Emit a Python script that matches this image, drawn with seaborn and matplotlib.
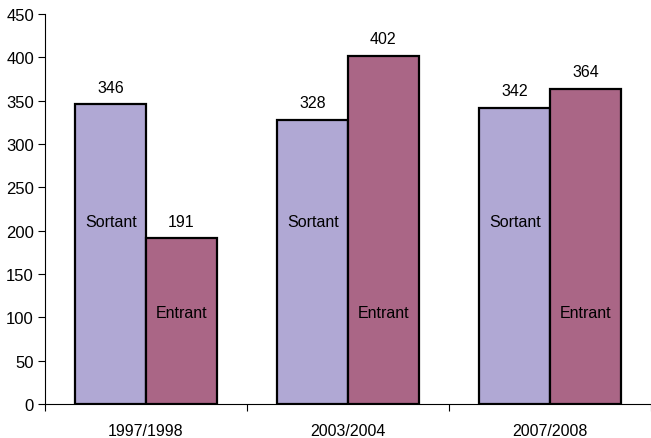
import matplotlib
matplotlib.use("Agg")
import matplotlib.pyplot as plt
import seaborn as sns
import pandas as pd

periods = ["1997/1998", "2003/2004", "2007/2008"]
series = ["Sortant", "Entrant"]
sortant = [346, 328, 342]
entrant = [191, 402, 364]
colors = {"Sortant": "#B0A8D4", "Entrant": "#AA6686"}

df = pd.DataFrame({
    "period": periods * 2,
    "series": ["Sortant"] * 3 + ["Entrant"] * 3,
    "value": sortant + entrant,
})

sns.set_theme(style="white")
plt.rcParams["font.family"] = ["Liberation Sans", "DejaVu Sans"]

fig = plt.figure(figsize=(6.51, 4.39), dpi=100)
ax = fig.add_axes([45 / 651, 34 / 439, 606 / 651, 390 / 439])

sns.barplot(data=df, x="period", y="value", hue="series", order=periods,
            hue_order=series, palette=colors, width=0.7, edgecolor="black",
            linewidth=1.6, saturation=1, legend=False, ax=ax)

# value labels and inside labels
for cont, name in zip(ax.containers, series):
    for bar in cont:
        h = bar.get_height()
        cx = bar.get_x() + bar.get_width() / 2
        ax.text(cx, h + 11, f"{int(round(h))}", ha="center", va="bottom",
                fontsize=11.5, color="black")
        inner_y = 211 if name == "Sortant" else 106
        ax.text(cx, inner_y, name, ha="center", va="center", fontsize=11.5,
                color="black")

ax.set_ylim(0, 450)
ax.set_xlim(-0.5, 2.5)
ax.set_yticks(range(0, 451, 50))
ax.set_xlabel("")
ax.set_ylabel("")

# category boundary ticks (major) and centred labels (minor)
ax.set_xticks([-0.5, 0.5, 1.5, 2.5])
ax.set_xticklabels([])
ax.set_xticks([0, 1, 2], minor=True)
ax.set_xticklabels(periods, minor=True)
ax.tick_params(axis="x", which="major", direction="out", length=5, width=0.8,
               color="black", bottom=True)
ax.tick_params(axis="x", which="minor", length=0, pad=14, labelsize=11.5,
               labelcolor="black")
ax.tick_params(axis="y", direction="out", length=5, width=0.8, color="black",
               left=True, labelsize=12, labelcolor="black", pad=3)

for s in ["top", "right"]:
    ax.spines[s].set_visible(False)
for s in ["left", "bottom"]:
    ax.spines[s].set_color("black")
    ax.spines[s].set_linewidth(0.8)

fig.savefig("out.png", dpi=100)
